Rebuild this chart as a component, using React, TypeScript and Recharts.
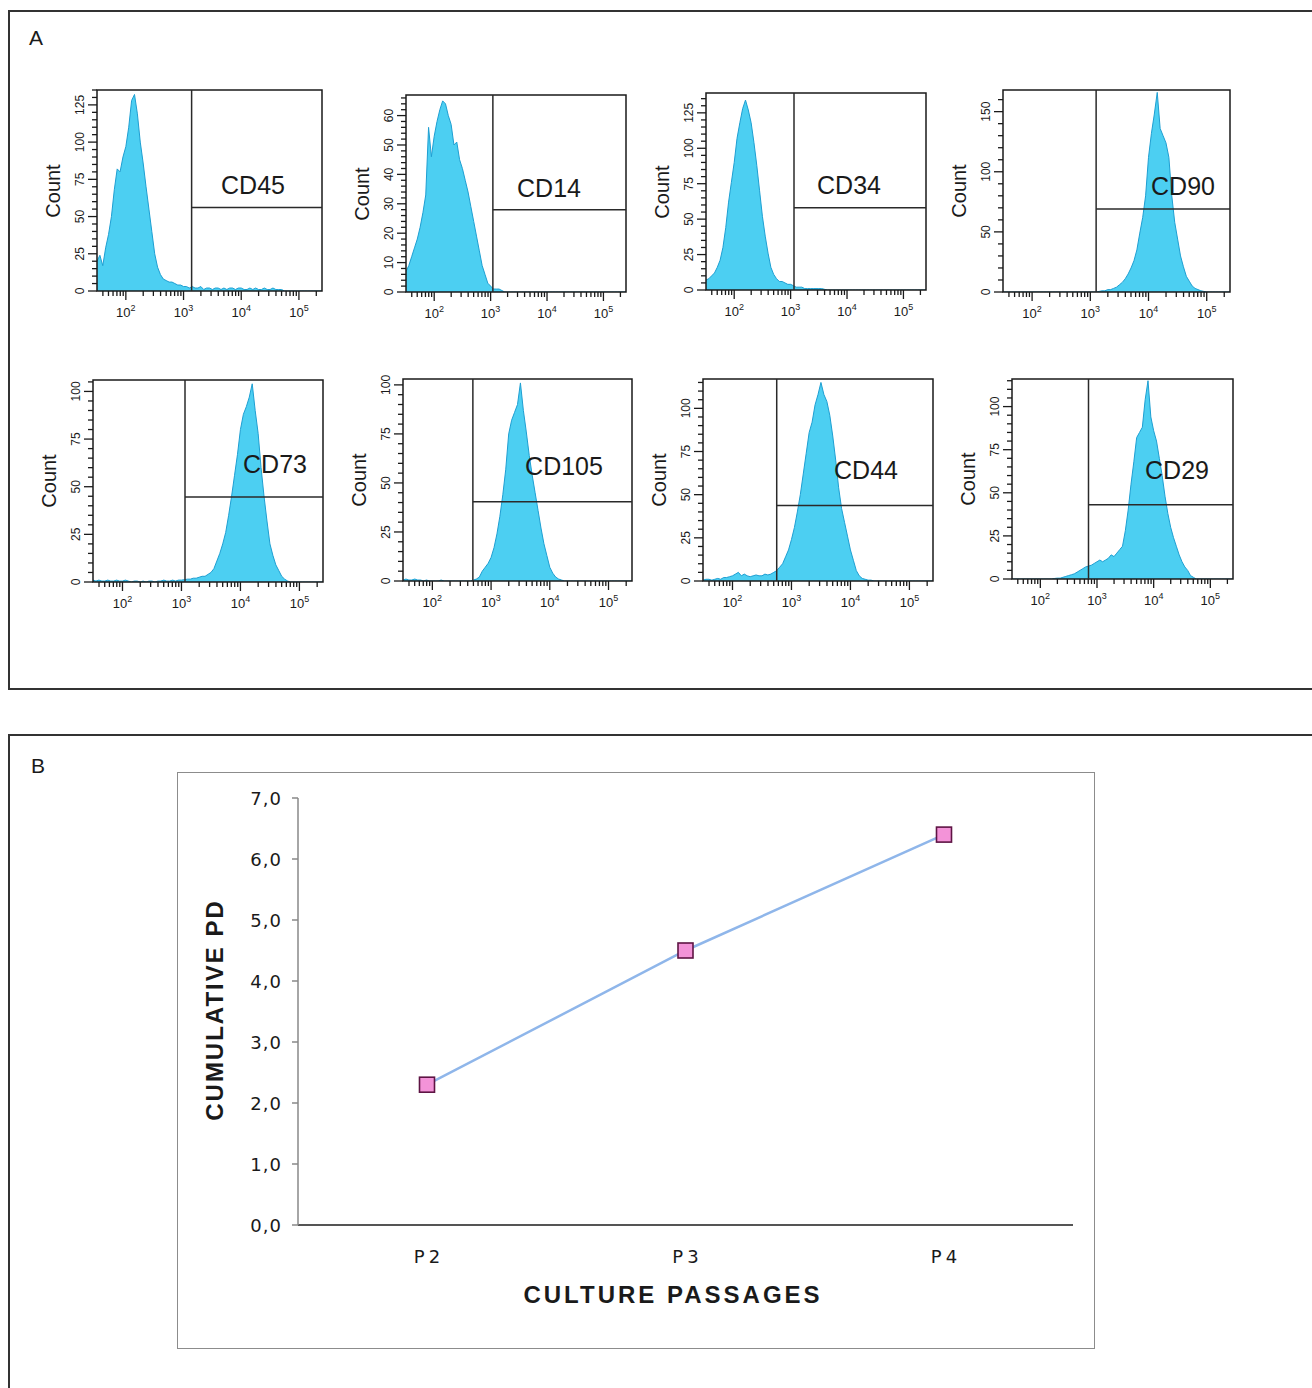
import React from "react";
import {
  Area,
  AreaChart,
  Line,
  LineChart,
  ReferenceArea,
  ReferenceLine,
  XAxis,
  YAxis,
} from "recharts";

// log10 fluorescence bins shared by every histogram
const LOG_BINS = [
  1.5, 1.55, 1.6, 1.65, 1.7, 1.75, 1.8, 1.85, 1.9, 1.95,
  2, 2.05, 2.1, 2.15, 2.2, 2.25, 2.3, 2.35, 2.4, 2.45,
  2.5, 2.55, 2.6, 2.65, 2.7, 2.75, 2.8, 2.85, 2.9, 2.95,
  3, 3.05, 3.1, 3.15, 3.2, 3.25, 3.3, 3.35, 3.4, 3.45,
  3.5, 3.55, 3.6, 3.65, 3.7, 3.75, 3.8, 3.85, 3.9, 3.95,
  4, 4.05, 4.1, 4.15, 4.2, 4.25, 4.3, 4.35, 4.4, 4.45,
  4.5, 4.55, 4.6, 4.65, 4.7, 4.75, 4.8, 4.85, 4.9, 4.95,
  5, 5.05, 5.1, 5.15, 5.2, 5.25, 5.3, 5.35, 5.4,
];

const CD45 = [
  20, 24, 17, 29, 38, 50, 68, 82, 80, 90,
  97, 110, 128, 132, 119, 100, 86, 70, 55, 40,
  25, 16, 11, 8, 7, 6, 6, 5, 4, 4,
  3, 3, 2, 3, 2, 2, 3, 1, 2, 2,
  1, 2, 2, 1, 2, 1, 2, 2, 1, 2,
  2, 1, 1, 2, 1, 2, 1, 1, 2, 1,
  1, 2, 1, 1, 1, 0, 0, 0, 0, 0,
  0, 0, 0, 0, 0, 0, 0, 0, 0,
];
const CD14 = [
  7, 9, 12, 15, 18, 22, 27, 33, 56, 46,
  53, 58, 62, 65, 64, 60, 57, 50, 51, 45,
  42, 38, 34, 29, 24, 19, 14, 9, 6, 3,
  2, 1, 1, 1, 0.5, 0, 0, 0, 0, 0,
  0, 0, 0, 0, 0, 0, 0, 0, 0, 0,
  0, 0, 0, 0, 0, 0, 0, 0, 0, 0,
  0, 0, 0, 0, 0, 0, 0, 0, 0, 0,
  0, 0, 0, 0, 0, 0, 0, 0, 0,
];
const CD34 = [
  7, 8, 10, 12, 16, 21, 30, 44, 62, 76,
  90, 107, 118, 128, 134, 127, 118, 104, 88, 70,
  52, 38, 26, 16, 11, 8, 6, 6, 5, 4,
  4, 3, 2, 2, 2, 1, 1, 1, 1, 1,
  1, 1, 0.5, 0, 0, 0, 0, 0, 0, 0,
  0, 0, 0, 0, 0, 0, 0, 0, 0, 0,
  0, 0, 0, 0, 0, 0, 0, 0, 0, 0,
  0, 0, 0, 0, 0, 0, 0, 0, 0,
];
const CD90 = [
  0, 0, 0, 0, 0, 0, 0, 0, 0, 0,
  0, 0, 0, 0, 0, 0, 0, 0, 0, 0,
  0, 0, 0, 0, 0, 0, 0, 0, 0, 0,
  0, 0, 0, 0.5, 1, 1, 2, 2, 3, 4,
  6, 8, 11, 15, 20, 26, 35, 49, 62, 80,
  112, 132, 148, 166, 136, 130, 124, 112, 80, 58,
  44, 30, 21, 13, 9, 5, 3, 2, 1, 0.5,
  0, 0, 0, 0, 0, 0, 0, 0, 0,
];
const CD73 = [
  1, 0.5, 1, 0.5, 0.5, 1, 0.5, 0.5, 1, 0.5,
  0.5, 1, 0.5, 0, 0.5, 0.5, 0, 0.5, 0, 0.5,
  0.5, 0, 0.5, 0.5, 1, 0.5, 0.5, 1, 0.5, 1,
  1, 1.2, 1.5, 1.5, 2, 2, 2.5, 3, 3, 4,
  5, 7, 11, 15, 20, 26, 35, 45, 56, 67,
  80, 88, 92, 97, 104, 90, 78, 60, 45, 32,
  20, 14, 9, 6, 3, 1.5, 0.5, 0, 0, 0,
  0, 0, 0, 0, 0, 0, 0, 0, 0,
];
const CD105 = [
  0.5, 1, 0.5, 0.5, 1, 0.5, 0.5, 0, 0.5, 0,
  0, 0, 0, 0.5, 0, 0, 0, 0, 0, 0,
  0, 0, 0, 0, 0.5, 1, 2, 5, 7, 9,
  12, 17, 24, 33, 44, 57, 75, 82, 86, 90,
  101, 87, 76, 64, 54, 45, 36, 27, 19, 13,
  7, 4, 2, 1, 0.5, 0, 0, 0, 0, 0,
  0, 0, 0, 0, 0, 0, 0, 0, 0, 0,
  0, 0, 0, 0, 0, 0, 0, 0, 0,
];
const CD44 = [
  0.5, 1, 1, 0.5, 1, 1.5, 1, 2, 2, 2.5,
  3, 4, 5, 3, 4, 3, 2.5, 3, 3.5, 3,
  3, 4, 3.5, 4, 5, 6, 8, 10, 14, 18,
  24, 31, 40, 50, 62, 74, 86, 92, 102, 108,
  115, 108, 104, 96, 84, 70, 54, 42, 34, 26,
  18, 12, 6, 3, 1.5, 1, 0.5, 0.5, 0, 0,
  0, 0, 0, 0, 0, 0, 0, 0, 0, 0,
  0, 0, 0, 0, 0, 0, 0, 0, 0,
];
const CD29 = [
  0, 0, 0, 0, 0, 0, 0, 0, 0, 0,
  0, 0, 0, 0, 0, 0.3, 0.5, 0.5, 1, 1.5,
  2, 2.5, 3, 4, 5, 6, 7, 7.5, 8, 9,
  10, 11, 10, 11, 12, 14, 13, 15, 17, 19,
  28, 40, 55, 68, 82, 85, 88, 104, 115, 94,
  86, 80, 70, 60, 48, 38, 30, 24, 19, 14,
  10, 7, 5, 2, 1, 0, 0, 0, 0, 0,
  0, 0, 0, 0, 0, 0, 0, 0, 0,
];

const MARKERS = ["CD45", "CD14", "CD34", "CD90", "CD73", "CD105", "CD44", "CD29"];
const SERIES = [CD45, CD14, CD34, CD90, CD73, CD105, CD44, CD29];
const Y_MAX = [135, 67, 139, 168, 106, 103, 117, 116];
const Y_MAJOR = [
  [0, 25, 50, 75, 100, 125],
  [0, 10, 20, 30, 40, 50, 60],
  [0, 25, 50, 75, 100, 125],
  [0, 50, 100, 150],
  [0, 25, 50, 75, 100],
  [0, 25, 50, 75, 100],
  [0, 25, 50, 75, 100],
  [0, 25, 50, 75, 100],
];
const Y_MINOR_STEP = [5, 2, 5, 10, 5, 5, 5, 5];
const GATE_X = [3.14, 3.04, 3.06, 3.1, 3.06, 2.69, 2.75, 2.85];
const GATE_Y = [56, 28, 58, 69, 44.6, 40.4, 43.8, 43];
const X_DECADES = [2, 3, 4, 5];
const X_DOMAIN: [number, number] = [1.5, 5.4];

// panel B
const PASSAGES = ["P2", "P3", "P4"];
const CUMULATIVE_PD = [2.3, 4.5, 6.4];
const PD_TICKS = [0, 1, 2, 3, 4, 5, 6, 7];

// layout of the histogram frames [left, top, width, height] and marker label centres
const FRAMES = [
  [97, 90, 225, 201],
  [406, 95, 220, 197],
  [706, 93, 220, 197],
  [1003, 90, 227, 202],
  [93, 380, 230, 202],
  [403, 379, 229, 202],
  [703, 379, 230, 202],
  [1012, 379, 221, 200],
];
const LABEL_POS = [
  [253, 185], [549, 188], [849, 185], [1183, 186],
  [275, 464], [564, 466], [866, 470], [1177, 470],
];

const SANS = "'Liberation Sans', Arial, sans-serif";
const INK = "#1a1a1a";

const xTickValues: number[] = [];
for (let d = 1; d <= 5; d++) {
  for (let k = 1; k <= 9; k++) {
    const v = d + Math.log10(k);
    if (v >= X_DOMAIN[0] && v <= X_DOMAIN[1]) xTickValues.push(v);
  }
}

function XTick(props: any) {
  const { x, y, payload } = props;
  const major = X_DECADES.includes(payload.value);
  return (
    <g>
      <line x1={x} x2={x} y1={y} y2={y + (major ? 9 : 5)} stroke={INK} strokeWidth={1.3} />
      {major && (
        <text x={x} y={y + 26} textAnchor="middle" fontSize={13} fontFamily={SANS} fill={INK}>
          10
          <tspan dy={-6} fontSize={9}>
            {payload.value}
          </tspan>
        </text>
      )}
    </g>
  );
}

function makeYTick(majors: number[]) {
  return (props: any) => {
    const { x, y, payload } = props;
    const major = majors.includes(payload.value);
    const tx = x - 17;
    return (
      <g>
        <line x1={x - (major ? 9 : 5)} x2={x} y1={y} y2={y} stroke={INK} strokeWidth={1.3} />
        {major && (
          <text
            x={tx}
            y={y}
            transform={`rotate(-90 ${tx} ${y})`}
            textAnchor="middle"
            dominantBaseline="central"
            fontSize={12}
            fontFamily={SANS}
            fill={INK}
          >
            {payload.value}
          </text>
        )}
      </g>
    );
  };
}

function Histogram({ i }: { i: number }) {
  const [fx, fy, fw, fh] = FRAMES[i];
  const YW = 60;
  const XH = 40;
  const TOP = 6;
  const RIGHT = 12;
  const data = LOG_BINS.map((x, j) => ({ x, y: SERIES[i][j] }));
  const yTicks: number[] = [];
  for (let v = 0; v <= Y_MAX[i]; v += Y_MINOR_STEP[i]) yTicks.push(v);
  const gx = GATE_X[i];
  const gy = GATE_Y[i];
  return (
    <>
      <div style={{ position: "absolute", left: fx - YW, top: fy - TOP }}>
        <AreaChart
          width={fw + YW + RIGHT}
          height={fh + TOP + XH}
          data={data}
          margin={{ top: TOP, right: RIGHT, left: 0, bottom: 0 }}
        >
          <XAxis
            type="number"
            dataKey="x"
            domain={X_DOMAIN}
            allowDataOverflow
            ticks={xTickValues}
            interval={0}
            height={XH}
            axisLine={false}
            tickLine={false}
            tickSize={0}
            tickMargin={0}
            tick={XTick}
          />
          <YAxis
            type="number"
            domain={[0, Y_MAX[i]]}
            allowDataOverflow
            ticks={yTicks}
            interval={0}
            width={YW}
            axisLine={false}
            tickLine={false}
            tickSize={0}
            tickMargin={0}
            tick={makeYTick(Y_MAJOR[i])}
          />
          <Area
            type="linear"
            dataKey="y"
            stroke="#1e9fd2"
            strokeWidth={1}
            fill="#4ccff2"
            fillOpacity={1}
            dot={false}
            activeDot={false}
            isAnimationActive={false}
          />
          <ReferenceArea
            x1={X_DOMAIN[0]}
            x2={X_DOMAIN[1]}
            y1={0}
            y2={Y_MAX[i]}
            stroke={INK}
            strokeWidth={1.5}
            fill="none"
            fillOpacity={0}
          />
          <ReferenceLine x={gx} stroke="#2a2a2a" strokeWidth={1.5} />
          <ReferenceLine
            segment={[
              { x: gx, y: gy },
              { x: X_DOMAIN[1], y: gy },
            ]}
            stroke="#2a2a2a"
            strokeWidth={1.5}
          />
        </AreaChart>
      </div>
      <div
        style={{
          position: "absolute",
          left: fx - 44,
          top: fy + fh / 2,
          transform: "translate(-50%, -50%) rotate(-90deg)",
          fontFamily: SANS,
          fontSize: 20,
          lineHeight: 1,
          color: INK,
          whiteSpace: "nowrap",
        }}
      >
        Count
      </div>
      <div
        style={{
          position: "absolute",
          left: LABEL_POS[i][0],
          top: LABEL_POS[i][1],
          transform: "translate(-50%, -50%)",
          fontFamily: SANS,
          fontSize: 25,
          lineHeight: 1,
          color: INK,
          whiteSpace: "nowrap",
        }}
      >
        {MARKERS[i]}
      </div>
    </>
  );
}

const PB_FONT = "'DejaVu Sans', Verdana, sans-serif";

function PdYTick(props: any) {
  const { x, y, payload } = props;
  return (
    <text
      x={x}
      y={y}
      textAnchor="end"
      dominantBaseline="central"
      fontSize={18}
      fontFamily={PB_FONT}
      fill={INK}
      letterSpacing={1}
    >
      {payload.value.toFixed(1).replace(".", ",")}
    </text>
  );
}

function PassageTick(props: any) {
  const { x, y, payload } = props;
  return (
    <text
      x={x + 2}
      y={y + 14}
      textAnchor="middle"
      fontSize={18}
      fontFamily={PB_FONT}
      fill={INK}
      letterSpacing={4}
    >
      {payload.value}
    </text>
  );
}

function SquareDot(props: any) {
  const { cx, cy, index } = props;
  return (
    <rect
      key={`sq-${index}`}
      x={cx - 7.5}
      y={cy - 7.5}
      width={15}
      height={15}
      fill="#f393d8"
      stroke="#5e1444"
      strokeWidth={1.6}
    />
  );
}

function PanelB() {
  const data = PASSAGES.map((p, i) => ({ p, pd: CUMULATIVE_PD[i] }));
  return (
    <>
      <div
        style={{
          position: "absolute",
          left: 177,
          top: 772,
          width: 918,
          height: 577,
          boxSizing: "border-box",
          border: "1.5px solid #8c8c8c",
        }}
      />
      <div style={{ position: "absolute", left: 177, top: 772 }}>
        <LineChart width={918} height={577} data={data} margin={{ top: 26, right: 22, left: 0, bottom: 0 }}>
          <XAxis
            dataKey="p"
            height={124}
            padding={{ left: 129, right: 129 }}
            axisLine={{ stroke: "#555", strokeWidth: 2 }}
            tickLine={false}
            tickSize={0}
            tickMargin={24}
            interval={0}
            tick={PassageTick}
          />
          <YAxis
            type="number"
            domain={[0, 7]}
            ticks={PD_TICKS}
            interval={0}
            width={121}
            axisLine={{ stroke: "#888", strokeWidth: 1.5 }}
            tickLine={{ stroke: "#888", strokeWidth: 1.5 }}
            tickSize={6}
            tickMargin={10}
            tick={PdYTick}
          />
          <Line
            type="linear"
            dataKey="pd"
            stroke="#8fb6ea"
            strokeWidth={2.5}
            dot={SquareDot}
            activeDot={false}
            isAnimationActive={false}
          />
        </LineChart>
      </div>
      <div
        style={{
          position: "absolute",
          left: 215,
          top: 1010,
          transform: "translate(-50%, -50%) rotate(-90deg)",
          fontFamily: SANS,
          fontWeight: "bold",
          fontSize: 24,
          letterSpacing: 2,
          lineHeight: 1,
          color: INK,
          whiteSpace: "nowrap",
        }}
      >
        CUMULATIVE PD
      </div>
      <div
        style={{
          position: "absolute",
          left: 673,
          top: 1295,
          transform: "translate(-50%, -50%)",
          fontFamily: SANS,
          fontWeight: "bold",
          fontSize: 24,
          letterSpacing: 3,
          lineHeight: 1,
          color: INK,
          whiteSpace: "nowrap",
        }}
      >
        CULTURE PASSAGES
      </div>
    </>
  );
}

export default function App() {
  return (
    <div
      style={{
        position: "absolute",
        left: 0,
        top: 0,
        width: 1312,
        height: 1388,
        overflow: "hidden",
        background: "#fff",
        fontFamily: SANS,
      }}
    >
      <div
        style={{
          position: "absolute",
          left: 8,
          top: 10,
          width: 1330,
          height: 680,
          boxSizing: "border-box",
          border: "2px solid #333",
        }}
      />
      <div style={{ position: "absolute", left: 29, top: 27, fontSize: 21, color: INK, lineHeight: 1 }}>A</div>
      <div
        style={{
          position: "absolute",
          left: 8,
          top: 734,
          width: 1330,
          height: 700,
          boxSizing: "border-box",
          border: "2px solid #333",
        }}
      />
      <div style={{ position: "absolute", left: 31, top: 755, fontSize: 21, color: INK, lineHeight: 1 }}>B</div>
      {MARKERS.map((_, i) => (
        <Histogram key={i} i={i} />
      ))}
      <PanelB />
    </div>
  );
}
